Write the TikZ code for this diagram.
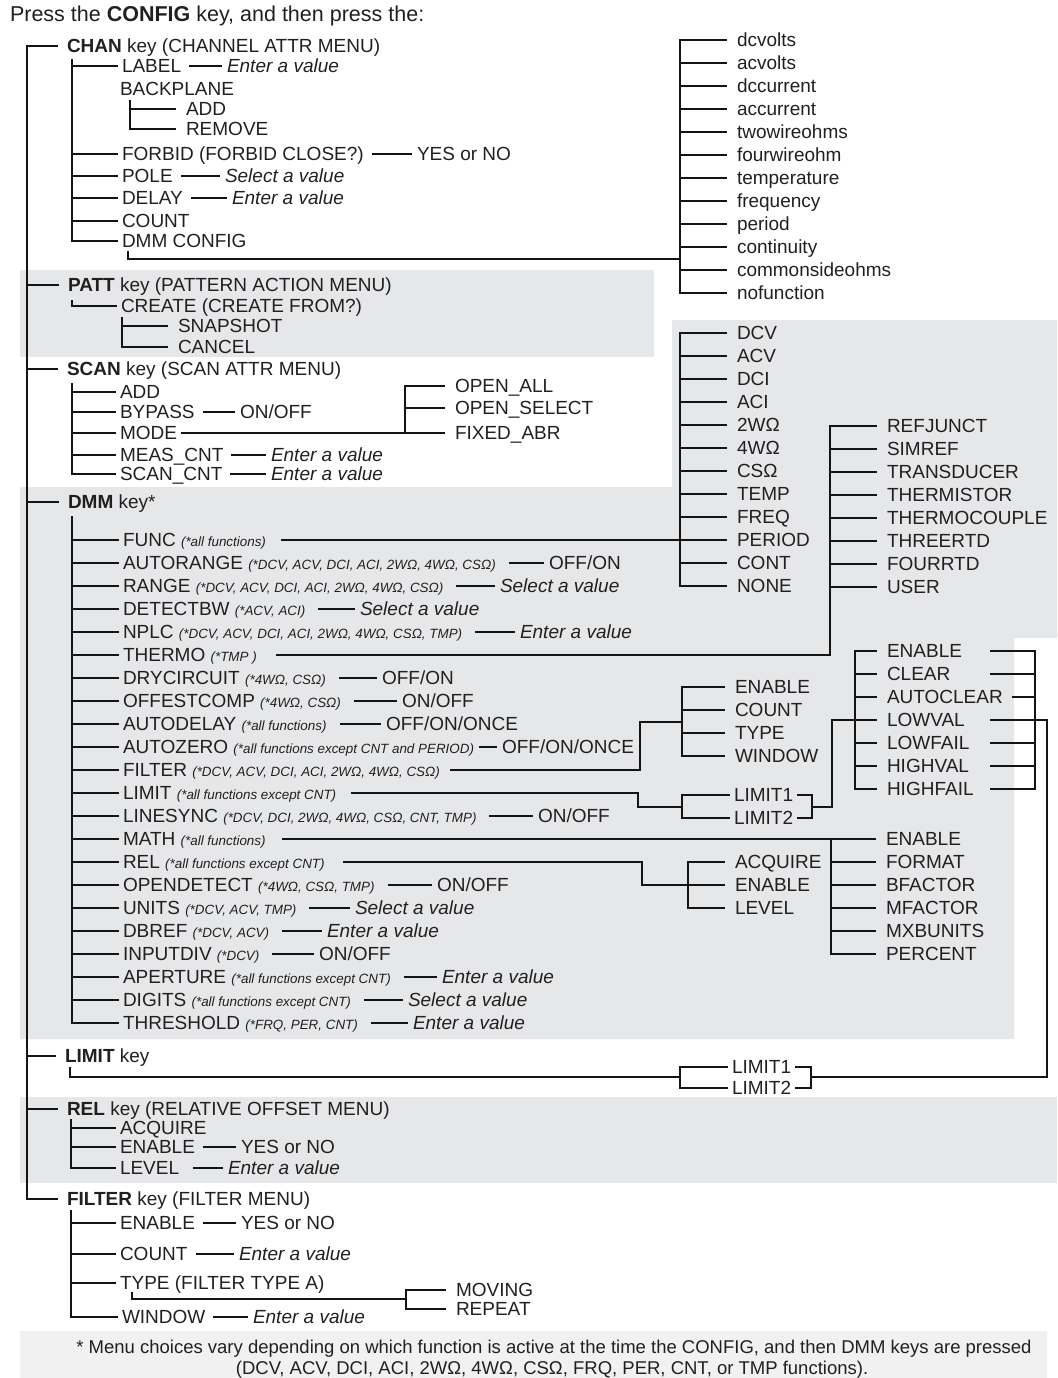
\documentclass[tikz,border=0pt]{standalone}
\usepackage{fontspec}
\setmainfont{Liberation Sans}
\usetikzlibrary{calc}
\definecolor{secgray}{HTML}{E6E7E8}
\definecolor{notegray}{HTML}{F1F1F2}
\definecolor{ink}{HTML}{231F20}
\definecolor{wire}{HTML}{141414}
\newcommand\mfont{\fontsize{19}{22}\selectfont}
\newcommand\nfont{\fontsize{18.5}{21}\selectfont}
\newcommand\ann[1]{{\fontsize{13.4}{15}\selectfont\itshape #1}}

\begin{document}
\begin{tikzpicture}[x=1pt,y=-1pt,
  ln/.style={line width=2.7pt,draw=wire,line cap=rect},
  vln/.style={line width=2.2pt,draw=wire,shorten <=#1},
  vln/.default=3pt,
  itm/.style={anchor=west,inner sep=0pt,outer xsep=5pt,text height=13.6pt,text depth=0pt,font=\mfont,text=ink},
  opt/.style={itm,outer xsep=11pt},
  keyn/.style={itm,outer xsep=10pt},
  ent/.style={itm,font=\mfont\itshape}]
  \useasboundingbox (0,0) rectangle (1057,1378);
  % shaded menu groups
  \fill[secgray] (20,270) rectangle (654,357);
  \fill[secgray] (20,487) -- (672,487) -- (672,320) -- (1057,320) -- (1057,638)
    -- (1014,638) -- (1014,1039) -- (20,1039) -- cycle;
  \fill[secgray] (20,1097) rectangle (1057,1183);
  \fill[notegray] (20,1331) rectangle (1047,1378);

  \node[itm,outer xsep=0pt,text height=15.4pt,font=\fontsize{21.5}{24}\selectfont] (hdr) at (10,14)
    {Press the \textbf{CONFIG} key, and then press the:};

  % keys on the main trunk
  \coordinate (tr) at (27,0);
  \node[keyn] (chan) at (57,46) {\textbf{CHAN} key (CHANNEL ATTR MENU)};
  \node[keyn] (patt) at (58,285) {\textbf{PATT} key (PATTERN ACTION MENU)};
  \node[keyn] (scan) at (57,369) {\textbf{SCAN} key (SCAN ATTR MENU)};
  \node[keyn] (dmm) at (58,502) {\textbf{DMM} key*};
  \node[keyn] (lim) at (55,1056) {\textbf{LIMIT} key};
  \node[keyn] (rel) at (57,1109) {\textbf{REL} key (RELATIVE OFFSET MENU)};
  \node[keyn] (flt) at (57,1199) {\textbf{FILTER} key (FILTER MENU)};
  \draw[ln] (chan.west) -| (tr |- flt.west) -- (flt.west);
  \foreach \k in {patt,scan,dmm,lim,rel}
    \draw[ln] (tr |- \k.west) -- (\k.west);

  % CHAN
  \coordinate (cx) at (72,0);
  \node[itm] (c1) at (117,66) {LABEL};
  \node[itm] (c2) at (115,89) {BACKPLANE};
  \node[opt] (c2a) at (175,109) {ADD};
  \node[opt] (c2b) at (175,129) {REMOVE};
  \node[itm] (c3) at (117,154) {FORBID (FORBID CLOSE?)};
  \node[itm] (c4) at (117,176) {POLE};
  \node[itm] (c5) at (117,198) {DELAY};
  \node[itm] (c6) at (117,221) {COUNT};
  \node[itm] (c7) at (117,241) {DMM CONFIG};
  \draw[ln] ($(cx |- c1.west)+(0,-6)$) |- (c7.west);
  \foreach \n in {c1,c3,c4,c5,c6}
    \draw[ln] (cx |- \n.west) -- (\n.west);
  \coordinate (bpx) at (130,0);
  \draw[ln] ($(bpx |- c2a.west)+(0,-8)$) |- (c2b.west);
  \draw[ln] (bpx |- c2a.west) -- (c2a.west);
  \node[ent] (vc1) at (222,66) {Enter a value};
  \node[itm] (vc3) at (412,154) {YES or NO};
  \node[ent] (vc4) at (220,176) {Select a value};
  \node[ent] (vc5) at (227,198) {Enter a value};
  \foreach \n in {c1,c3,c4,c5}
    \draw[vln] (\n.east) -- (v\n.west);

  % DMM CONFIG functions
  \coordinate (fx) at (680,0);
  \coordinate (cfg) at (680,259);
  \foreach \t [count=\i] in {dcvolts,acvolts,dccurrent,accurrent,twowireohms,fourwireohm,
      temperature,frequency,period,continuity,commonsideohms,nofunction}
    \node[opt] (f\i) at (726,{40+23*(\i-1)}) {\t};
  \draw[ln] (f1.west) -| (fx |- f12.west) -- (f12.west);
  \foreach \i in {2,...,11}
    \draw[ln] (fx |- f\i.west) -- (f\i.west);
  \draw[ln] ($(c7.south west)+(11,4)$) |- (cfg);

  % PATT
  \node[itm] (p1) at (116,306) {CREATE (CREATE FROM?)};
  \node[opt] (p1a) at (167,326) {SNAPSHOT};
  \node[opt] (p1b) at (167,347) {CANCEL};
  \draw[ln] ($(cx |- p1.west)+(0,-5)$) |- (p1.west);
  \coordinate (snx) at (122,0);
  \draw[ln] ($(snx |- p1a.west)+(0,-8)$) |- (p1b.west);
  \draw[ln] (snx |- p1a.west) -- (p1a.west);

  % SCAN
  \node[itm] (s1) at (115,392) {ADD};
  \node[itm] (s2) at (115,412) {BYPASS};
  \node[itm] (s3) at (115,433) {MODE};
  \node[itm] (s4) at (115,455) {MEAS\_CNT};
  \node[itm] (s5) at (115,474) {SCAN\_CNT};
  \draw[ln] ($(cx |- s1.west)+(0,-8)$) |- (s5.west);
  \foreach \n in {s1,s2,s3,s4}
    \draw[ln] (cx |- \n.west) -- (\n.west);
  \node[itm] (vs2) at (235,412) {ON/OFF};
  \node[ent] (vs4) at (266,455) {Enter a value};
  \node[ent] (vs5) at (266,474) {Enter a value};
  \foreach \n in {s2,s4,s5}
    \draw[vln] (\n.east) -- (v\n.west);
  \coordinate (mx) at (405,0);
  \node[opt] (o1) at (444,386) {OPEN\_ALL};
  \node[opt] (o2) at (444,408) {OPEN\_SELECT};
  \node[opt] (o3) at (444,433) {FIXED\_ABR};
  \draw[ln] (s3.east) -- (o3.west);
  \draw[ln] (o1.west) -| (mx |- o3.west);
  \draw[ln] (mx |- o2.west) -- (o2.west);

  % DMM
  \coordinate (dx) at (72,0);
  \foreach \a/\b [count=\i] in {
      FUNC/(*all functions),
      AUTORANGE/{(*DCV, ACV, DCI, ACI, 2WΩ, 4WΩ, CSΩ)},
      RANGE/{(*DCV, ACV, DCI, ACI, 2WΩ, 4WΩ, CSΩ)},
      DETECTBW/{(*ACV, ACI)},
      NPLC/{(*DCV, ACV, DCI, ACI, 2WΩ, 4WΩ, CSΩ, TMP)},
      THERMO/(*TMP\ ),
      DRYCIRCUIT/{(*4WΩ, CSΩ)},
      OFFESTCOMP/{(*4WΩ, CSΩ)},
      AUTODELAY/(*all functions),
      AUTOZERO/(*all functions except CNT and PERIOD),
      FILTER/{(*DCV, ACV, DCI, ACI, 2WΩ, 4WΩ, CSΩ)},
      LIMIT/(*all functions except CNT),
      LINESYNC/{(*DCV, DCI, 2WΩ, 4WΩ, CSΩ, CNT, TMP)},
      MATH/(*all functions),
      REL/(*all functions except CNT),
      OPENDETECT/{(*4WΩ, CSΩ, TMP)},
      UNITS/{(*DCV, ACV, TMP)},
      DBREF/{(*DCV, ACV)},
      INPUTDIV/(*DCV),
      APERTURE/(*all functions except CNT),
      DIGITS/(*all functions except CNT),
      THRESHOLD/{(*FRQ, PER, CNT)}}
    \node[itm] (d\i) at (118,{540+23*(\i-1)}) {\a\ \ann{\b}};
  \draw[ln] ($(dx |- d1.west)+(0,-23)$) |- (d22.west);
  \foreach \i in {1,...,21}
    \draw[ln] (dx |- d\i.west) -- (d\i.west);
  \node[itm] (v2) at (544,563) {OFF/ON};
  \node[ent] (v3) at (495,586) {Select a value};
  \node[ent] (v4) at (355,609) {Select a value};
  \node[ent] (v5) at (515,632) {Enter a value};
  \node[itm] (v7) at (377,678) {OFF/ON};
  \node[itm] (v8) at (397,701) {ON/OFF};
  \node[itm] (v9) at (381,724) {OFF/ON/ONCE};
  \node[itm] (v10) at (497,747) {OFF/ON/ONCE};
  \node[itm] (v13) at (533,816) {ON/OFF};
  \node[itm] (v16) at (432,885) {ON/OFF};
  \node[ent] (v17) at (350,908) {Select a value};
  \node[ent] (v18) at (322,931) {Enter a value};
  \node[itm] (v19) at (314,954) {ON/OFF};
  \node[ent] (v20) at (437,977) {Enter a value};
  \node[ent] (v21) at (403,1000) {Select a value};
  \node[ent] (v22) at (408,1023) {Enter a value};
  \foreach \i in {2,3,4,5,7,8,9,13,16,17,18,19,20,21,22}
    \draw[vln=8pt] (d\i.east) -- (v\i.west);
  \draw[vln=0pt] (d10.east) -- (v10.west);

  % FUNC choices
  \coordinate (gx) at (680,0);
  \foreach \t [count=\i] in {DCV,ACV,DCI,ACI,2WΩ,4WΩ,CSΩ,TEMP,FREQ,PERIOD,CONT,NONE}
    \node[opt] (g\i) at (726,{333+23*(\i-1)}) {\t};
  \draw[ln] (g1.west) -| (gx |- g12.west) -- (g12.west);
  \foreach \i in {2,...,11}
    \draw[ln] (gx |- g\i.west) -- (g\i.west);
  \draw[ln,shorten <=11pt] (d1.east) -- (g10.west);

  % THERMO choices
  \coordinate (hx) at (830,0);
  \foreach \t [count=\i] in {REFJUNCT,SIMREF,TRANSDUCER,THERMISTOR,THERMOCOUPLE,THREERTD,FOURRTD,USER}
    \node[opt] (h\i) at (876,{426+23*(\i-1)}) {\t};
  \draw[ln,shorten <=16pt] (d6.east) -| (hx |- h1.west) -- (h1.west);
  \foreach \i in {2,...,8}
    \draw[ln] (hx |- h\i.west) -- (h\i.west);

  % FILTER choices
  \coordinate (ex) at (682,0);
  \coordinate (fj) at (640,722);
  \foreach \t [count=\i] in {ENABLE,COUNT,TYPE,WINDOW}
    \node[opt] (e\i) at (724,{687+23*(\i-1)}) {\t};
  \draw[ln] (e1.west) -| (ex |- e4.west) -- (e4.west);
  \foreach \i in {2,3}
    \draw[ln] (ex |- e\i.west) -- (e\i.west);
  \draw[ln,shorten <=7pt] (d11.east) -| (fj) -- (ex |- fj);

  % LIMIT choices
  \coordinate (lj) at (638,807);
  \coordinate (lrx) at (812,0);
  \coordinate (lup) at (832,807);
  \node[itm] (l1) at (729,795) {LIMIT1};
  \node[itm] (l2) at (729,818) {LIMIT2};
  \draw[ln] (l1.west) -| (ex |- l2.west) -- (l2.west);
  \draw[ln,shorten <=11pt] (d12.east) -| (lj) -- (ex |- lj);
  \draw[ln] (l1.east) -| (lrx |- l2.east) -- (l2.east);

  \coordinate (kx) at (855,0);
  \coordinate (ks) at (991,0);
  \coordinate (kr) at (1035,0);
  \coordinate (lvx) at (1047,0);
  \foreach \t [count=\i] in {ENABLE,CLEAR,AUTOCLEAR,LOWVAL,LOWFAIL,HIGHVAL,HIGHFAIL}
    \node[opt] (k\i) at (876,{651+23*(\i-1)}) {\t};
  \draw[ln] (k1.west) -| (kx |- k7.west) -- (k7.west);
  \foreach \i in {2,...,6}
    \draw[ln] (kx |- k\i.west) -- (k\i.west);
  \draw[ln] (lrx |- lj) -- (lup) |- (k4.west);
  \foreach \i in {1,2,5,6,7}
    \draw[ln] (ks |- k\i.west) -- (kr |- k\i.west);
  \draw[ln] (k3.east) -- (kr |- k3.east);
  \draw[ln] (kr |- k1.west) -- (kr |- k7.west);

  % MATH choices
  \coordinate (mx2) at (831,0);
  \foreach \t [count=\i] in {ENABLE,FORMAT,BFACTOR,MFACTOR,MXBUNITS,PERCENT}
    \node[opt] (m\i) at (875,{839+23*(\i-1)}) {\t};
  \draw[ln,shorten <=13pt] (d14.east) -- (m1.west);
  \draw[ln] (mx2 |- m1.west) -- (mx2 |- m6.west) -- (m6.west);
  \foreach \i in {2,...,5}
    \draw[ln] (mx2 |- m\i.west) -- (m\i.west);

  % REL choices
  \coordinate (rx) at (688,0);
  \coordinate (rj) at (642,885);
  \foreach \t [count=\i] in {ACQUIRE,ENABLE,LEVEL}
    \node[opt] (r\i) at (724,{862+23*(\i-1)}) {\t};
  \draw[ln] (r1.west) -| (rx |- r3.west) -- (r3.west);
  \draw[ln,shorten <=15pt] (d15.east) -| (rj) -- (r2.west);

  % LIMIT key
  \coordinate (nj) at (680,1077);
  \coordinate (nrx) at (811,0);
  \node[itm] (n1) at (727,1067) {LIMIT1};
  \node[itm] (n2) at (727,1088) {LIMIT2};
  \draw[ln] (n1.west) -| (fx |- n2.west) -- (n2.west);
  \draw[ln] ($(lim.south west)+(15,5)$) |- (nj);
  \draw[ln] (n1.east) -| (nrx |- n2.east) -- (n2.east);
  \draw[ln] (ks |- k4.west) -| (lvx |- nj) -- (nrx |- nj);

  % REL key
  \coordinate (qx) at (71,0);
  \node[itm] (q1) at (115,1128) {ACQUIRE};
  \node[itm] (q2) at (115,1147) {ENABLE};
  \node[itm] (q3) at (115,1168) {LEVEL};
  \draw[ln] ($(qx |- q1.west)+(0,-8)$) |- (q3.west);
  \foreach \n in {q1,q2}
    \draw[ln] (qx |- \n.west) -- (\n.west);
  \node[itm] (vq2) at (236,1147) {YES or NO};
  \node[ent] (vq3) at (223,1168) {Enter a value};
  \draw[vln] (q2.east) -- (vq2.west);
  \draw[vln=9pt] (q3.east) -- (vq3.west);

  % FILTER key
  \node[itm] (t1) at (115,1223) {ENABLE};
  \node[itm] (t2) at (115,1254) {COUNT};
  \node[itm] (t3) at (115,1283) {TYPE (FILTER TYPE A)};
  \node[itm] (t4) at (117,1317) {WINDOW};
  \draw[ln] ($(qx |- t1.west)+(0,-12)$) |- (t4.west);
  \foreach \n in {t1,t2,t3}
    \draw[ln] (qx |- \n.west) -- (\n.west);
  \node[itm] (vt1) at (236,1223) {YES or NO};
  \node[ent] (vt2) at (234,1254) {Enter a value};
  \node[ent] (vt4) at (248,1317) {Enter a value};
  \foreach \n in {t1,t2,t4}
    \draw[vln] (\n.east) -- (v\n.west);
  \coordinate (ux) at (406,0);
  \coordinate (uj) at (406,1299);
  \node[opt] (u1) at (445,1290) {MOVING};
  \node[opt] (u2) at (445,1309) {REPEAT};
  \draw[ln] (u1.west) -| (ux |- u2.west) -- (u2.west);
  \draw[ln] ($(t3.south west)+(17,3)$) |- (uj);

  % footnote
  \node[itm,anchor=center,outer xsep=0pt,text height=13.2pt,font=\nfont] (note1) at (554,1347)
    {* Menu choices vary depending on which function is active at the time the CONFIG, and then DMM keys are pressed};
  \node[itm,anchor=center,outer xsep=0pt,text height=13.2pt,font=\nfont] (note2) at (552,1368)
    {(DCV, ACV, DCI, ACI, 2WΩ, 4WΩ, CSΩ, FRQ, PER, CNT, or TMP functions).};
\end{tikzpicture}
\end{document}
